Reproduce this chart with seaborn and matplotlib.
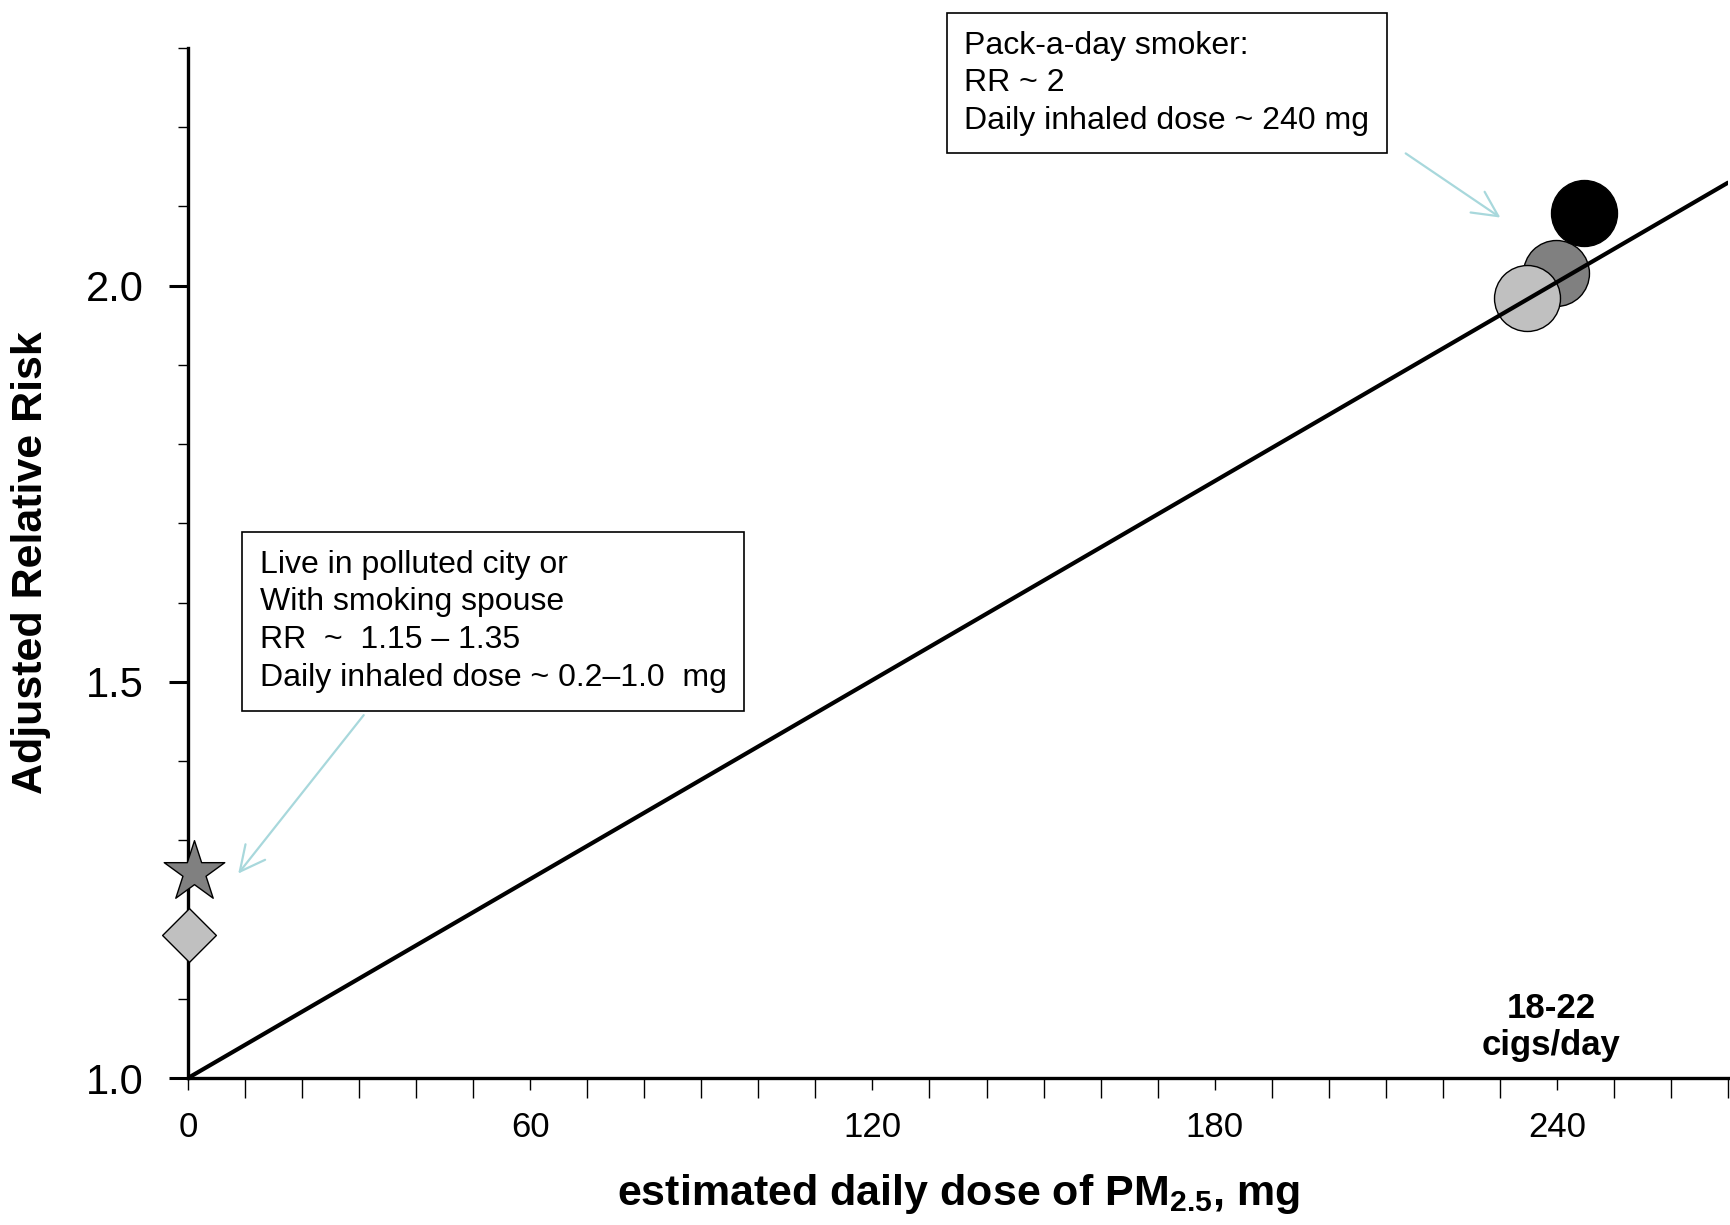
import matplotlib
matplotlib.use('Agg')
import matplotlib.pyplot as plt
from matplotlib.ticker import MultipleLocator, FixedLocator
import seaborn as sns

# smokers (18-22 cigs/day) - three studies
smoker_dose = [239.8, 234.7, 244.7]
smoker_rr = [2.016, 1.985, 2.092]
smoker_colors = ['#808080', '#C0C0C0', '#000000']

# passive exposure: polluted city (star), smoking spouse (diamond)
passive_dose = [1.0, 0.2]
passive_rr = [1.26, 1.18]
passive_markers = ['*', 'D']
passive_colors = ['#808080', '#C0C0C0']
passive_sizes = [2100, 750]

# linear dose-response line
fit_dose = [0, 270]
fit_rr = [1.0, 2.13]

x_major = [0, 60, 120, 180, 240]
y_major = [1.0, 1.5, 2.0]

sns.set_style('ticks')
plt.rcParams['font.family'] = ['Liberation Sans', 'DejaVu Sans']
plt.rcParams['mathtext.fontset'] = 'custom'
plt.rcParams['mathtext.rm'] = 'Liberation Sans'
plt.rcParams['mathtext.bf'] = 'Liberation Sans:bold'
for k in ['text.color', 'axes.labelcolor', 'xtick.color', 'ytick.color', 'axes.edgecolor']:
    plt.rcParams[k] = 'black'

fig, ax = plt.subplots(figsize=(17.3, 12.25), dpi=100)
fig.subplots_adjust(left=0.1087, right=0.9988, bottom=0.12, top=0.9608)

for d, r, c in zip(smoker_dose, smoker_rr, smoker_colors):
    sns.scatterplot(x=[d], y=[r], color=c, s=2256, edgecolor='black',
                    linewidth=1, zorder=2, clip_on=False, ax=ax)

for d, r, m, c, s in zip(passive_dose, passive_rr, passive_markers, passive_colors, passive_sizes):
    sns.scatterplot(x=[d], y=[r], marker=m, color=c, s=s, edgecolor='black',
                    linewidth=1, zorder=4, clip_on=False, ax=ax)

sns.lineplot(x=fit_dose, y=fit_rr, color='black', lw=3, zorder=3, ax=ax)

ax.set_xlim(0, 270)
ax.set_ylim(1.0, 2.3)
ax.xaxis.set_major_locator(FixedLocator(x_major))
ax.xaxis.set_minor_locator(MultipleLocator(10))
ax.yaxis.set_major_locator(FixedLocator(y_major))
ax.yaxis.set_minor_locator(MultipleLocator(0.1))
ax.set_yticklabels(['%.1f' % v for v in y_major])

sns.despine(ax=ax)
for sp in ['left', 'bottom']:
    ax.spines[sp].set_linewidth(2.4)

ax.tick_params(axis='x', which='major', length=8.6, width=1, labelsize=25, pad=15)
ax.tick_params(axis='x', which='minor', length=14.4, width=1)
ax.tick_params(axis='y', which='major', length=13.7, width=2.2, labelsize=30, pad=18)
ax.tick_params(axis='y', which='minor', length=7.2, width=1)

ax.set_xlabel(r'estimated daily dose of PM$_{\mathbf{2.5}}$, mg', fontsize=31,
              fontweight='bold', labelpad=20)
ax.set_ylabel('Adjusted Relative Risk', fontsize=31, fontweight='bold', labelpad=25)

box = dict(boxstyle='square,pad=0.55', facecolor='white', edgecolor='black', lw=1.2)
ax.text(136.1, 2.322, 'Pack-a-day smoker:\nRR ~ 2\nDaily inhaled dose ~ 240 mg',
        fontsize=23, ha='left', va='top', linespacing=1.33, bbox=box, clip_on=False)
ax.text(12.6, 1.667, 'Live in polluted city or\nWith smoking spouse\nRR  ~  1.15 \u2013 1.35\n'
        'Daily inhaled dose ~ 0.2\u20131.0  mg',
        fontsize=23, ha='left', va='top', linespacing=1.34, bbox=box)

arrow = dict(arrowstyle='->,head_length=0.9,head_width=0.45', color='#A8D8DC', lw=1.6,
             mutation_scale=20, shrinkA=0, shrinkB=0)
ax.annotate('', xy=(230.1, 2.086), xytext=(213.5, 2.167), arrowprops=arrow, annotation_clip=False)
ax.annotate('', xy=(8.8, 1.258), xytext=(30.8, 1.458), arrowprops=arrow)

ax.text(239, 1.02, '18-22\ncigs/day', fontsize=25, fontweight='bold',
        ha='center', va='bottom', linespacing=1.15)

plt.savefig('out.png', dpi=100)
